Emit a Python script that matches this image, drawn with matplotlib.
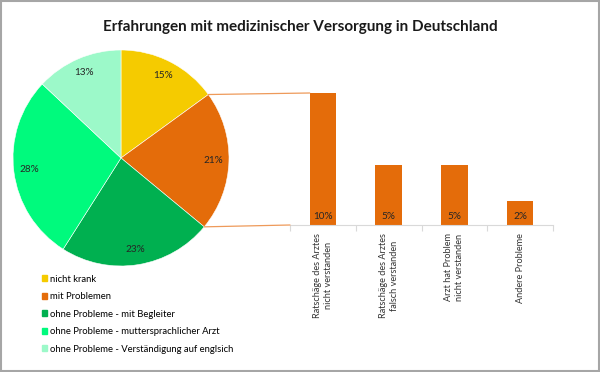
import numpy as np
import matplotlib
matplotlib.use("Agg")
import matplotlib.pyplot as plt
from matplotlib.patches import ConnectionPatch, Rectangle

plt.rcParams['font.family'] = ['Lato', 'DejaVu Sans']

# pie data
pie_labels = [
	"nicht krank",
	"mit Problemen",
	"ohne Probleme - mit Begleiter",
	"ohne Probleme - muttersprachlicher Arzt",
	"ohne Probleme - Verständigung auf englsich",
]
pie_values = [15, 21, 23, 28, 13]
pie_colors = ["#F5CB00", "#E46C0A", "#00B050", "#00FA7D", "#9CF9C9"]

# breakdown of "mit Problemen"
bar_labels = [
	"Ratschäge des Arztes\nnicht verstanden",
	"Ratschäge des Arztes\nfalsch verstanden",
	"Arzt hat Problem\nnicht verstanden",
	"Andere Probleme",
]
bar_values = [10.4, 4.7, 4.7, 1.9]
bar_color = "#E46C0A"

W, H = 600, 372
fig = plt.figure(figsize=(W/100, H/100), dpi=100)
fig.patch.set_facecolor("white")

fig.text(0.5, 1 - 27/H, "Erfahrungen mit medizinischer Versorgung in Deutschland",
	ha="center", va="center", fontsize=11, fontweight="bold", color="#1a1a1a")

# pie
cx, cy, r = 121, 158, 108
ax_pie = fig.add_axes([(cx - r)/W, (H - cy - r)/H, 2*r/W, 2*r/H])
wedges, texts, autotexts = ax_pie.pie(pie_values, colors=pie_colors, startangle=90,
	counterclock=False, autopct="%d%%", pctdistance=0.86,
	wedgeprops={"edgecolor": "white", "linewidth": 0.4},
	textprops={"fontsize": 7.2, "color": "#262626"})
ax_pie.set_xlim(-1, 1)
ax_pie.set_ylim(-1, 1)
ax_pie.set_aspect("equal")
ax_pie.axis("off")

# bars
x0, x1, base = 290, 553, 225
top = 93
ax_bar = fig.add_axes([x0/W, (H - base)/H, (x1 - x0)/W, (base - top)/H])
xs = np.arange(len(bar_values))
ax_bar.bar(xs, bar_values, width=0.4, color=bar_color)
for x, v in zip(xs, bar_values):
	ax_bar.text(x, 0.35, "%.0f%%" % v, ha="center", va="bottom", fontsize=7.2, color="#262626")
ax_bar.set_xlim(-0.5, len(bar_values) - 0.5)
ax_bar.set_ylim(0, max(bar_values))
for s in ["top", "right", "left"]:
	ax_bar.spines[s].set_visible(False)
ax_bar.spines["bottom"].set_color("#d9d9d9")
ax_bar.set_yticks([])
ax_bar.set_xticks(np.arange(-0.5, len(bar_values)), minor=False)
ax_bar.set_xticklabels([])
ax_bar.tick_params(axis="x", length=4, color="#d9d9d9")
ax_bar.set_xticks(xs, minor=True)
ax_bar.set_xticklabels(bar_labels, minor=True, rotation=90, fontsize=6.6,
	color="#333333", va="top", ha="center", multialignment="center", linespacing=1.3)
ax_bar.tick_params(axis="x", which="minor", length=0, pad=6)

# connector lines from orange wedge to bars
a1 = np.deg2rad(90 - 360 * pie_values[0] / 100)
a2 = np.deg2rad(90 - 360 * (pie_values[0] + pie_values[1]) / 100)
for pa, pb in [((np.cos(a1), np.sin(a1)), (-0.2, bar_values[0])),
		((np.cos(a2), np.sin(a2)), (-0.5, 0))]:
	con = ConnectionPatch(xyA=pa, coordsA=ax_pie.transData, xyB=pb, coordsB=ax_bar.transData,
		color="#EE9A5A", linewidth=0.9)
	fig.add_artist(con)

# legend
handles = [Rectangle((0, 0), 1, 1, color=c) for c in pie_colors]
fig.legend(handles, pie_labels, loc="upper left", bbox_to_anchor=(38/W, 1 - 271/H),
	frameon=False, fontsize=6.8, handlelength=0.6, handleheight=0.6,
	handletextpad=0.3, labelspacing=0.9, borderaxespad=0)

# outer border
fig.add_artist(Rectangle((0.001, 0.002), 0.997, 0.995, transform=fig.transFigure,
	fill=False, edgecolor="#a6a6a6", linewidth=1.5))

fig.savefig("out.png", dpi=100)
